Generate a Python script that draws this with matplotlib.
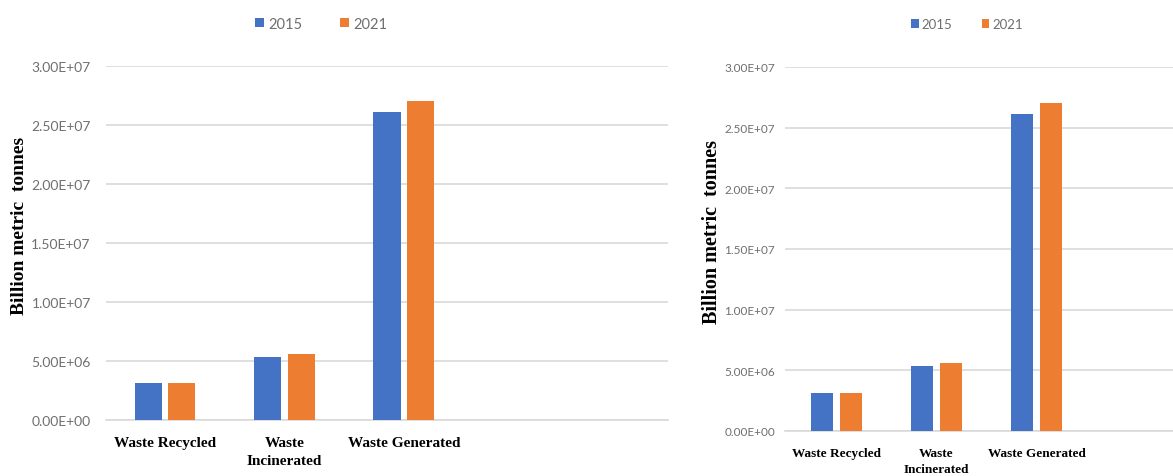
import matplotlib
matplotlib.use("Agg")
import matplotlib.pyplot as plt
from matplotlib.ticker import FuncFormatter
import numpy as np

# data (same figures shown in both panels)
categories = ["Waste Recycled", "Waste\nIncinerated", "Waste Generated"]
years = ["2015", "2021"]
vals_2015 = [3.1e6, 5.35e6, 2.61e7]
vals_2021 = [3.1e6, 5.6e6, 2.70e7]
yticks = [0, 5e6, 1e7, 1.5e7, 2e7, 2.5e7, 3e7]

blue = "#4472C4"
orange = "#ED7D31"
grid_col = "#D9D9D9"
tick_col = "#6F6F6F"

W, H = 1173, 477
fig = plt.figure(figsize=(W / 100, H / 100), dpi=100)


def px_axes(x0, x1, ytop, ybot):
    return fig.add_axes([x0 / W, (H - ybot) / H, (x1 - x0) / W, (ybot - ytop) / H])


def draw_panel(ax, xlim, width, off, tick_size, xlab_size, ypad, xpad, lsp):
    x = np.arange(len(categories))
    b1 = ax.bar(x - off, vals_2015, width, color=blue, label=years[0], zorder=3)
    b2 = ax.bar(x + off, vals_2021, width, color=orange, label=years[1], zorder=3)
    ax.set_xlim(*xlim)
    ax.set_ylim(0, 3e7)
    ax.set_yticks(yticks)
    ax.yaxis.set_major_formatter(FuncFormatter(lambda v, p: f"{v:.2E}"))
    ax.set_xticks(x)
    ax.set_xticklabels(categories, fontfamily="Liberation Serif",
                       fontweight="bold", fontsize=xlab_size, linespacing=lsp)
    ax.tick_params(axis="y", length=0, pad=ypad, labelsize=tick_size,
                   labelcolor=tick_col)
    ax.tick_params(axis="x", length=0, pad=xpad)
    for lab in ax.get_yticklabels():
        lab.set_fontfamily("Lato")
    ax.grid(axis="y", color=grid_col, linewidth=1.2, zorder=0)
    for s in ["top", "right", "left"]:
        ax.spines[s].set_visible(False)
    ax.spines["bottom"].set_color(grid_col)
    ax.spines["bottom"].set_linewidth(1.2)
    return b1, b2


# left panel
ax1 = px_axes(106, 668, 67, 421)
h = draw_panel(ax1, (-0.494, 4.21), 0.226, 0.142, 10, 11, 11, 11.5, 1.55)
fig.legend(h, years, loc="center", bbox_to_anchor=(321 / W, 1 - 25 / H),
           ncol=2, frameon=False, handlelength=0.6, handleheight=0.6,
           handletextpad=0.3, columnspacing=2.6,
           prop={"family": "Lato", "size": 10.5}, labelcolor=tick_col)
fig.text(20 / W, 1 - 226 / H, "Billion metric  tonnes", rotation=90,
         ha="center", va="center", fontfamily="Liberation Serif",
         fontweight="bold", fontsize=14)

# right panel
ax2 = px_axes(785, 1173, 68, 432)
h = draw_panel(ax2, (-0.515, 3.365), 0.22, 0.143, 8.5, 9.5, 7, 11.5, 1.5)
fig.legend(h, years, loc="center", bbox_to_anchor=(967 / W, 1 - 25 / H),
           ncol=2, frameon=False, handlelength=0.6, handleheight=0.6,
           handletextpad=0.2, columnspacing=2.2,
           prop={"family": "Lato", "size": 9.5}, labelcolor=tick_col)
fig.text(712 / W, 1 - 232 / H, "Billion metric  tonnes", rotation=90,
         ha="center", va="center", fontfamily="Liberation Serif",
         fontweight="bold", fontsize=14.5)

fig.savefig("out.png", dpi=100)
